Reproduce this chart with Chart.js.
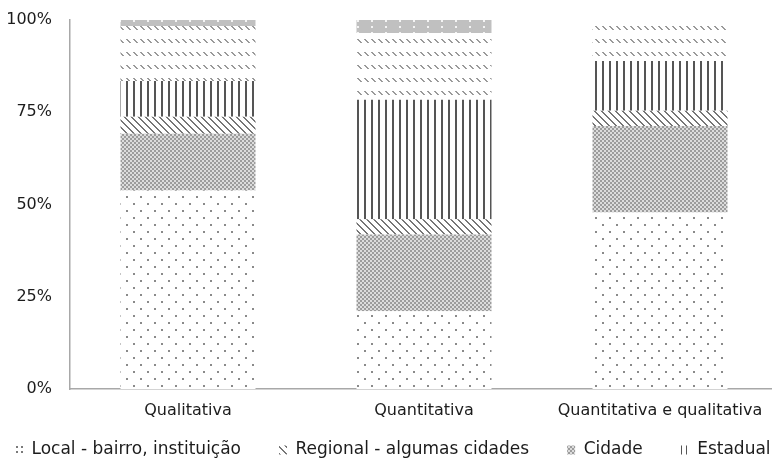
<!DOCTYPE html>
<html><head><meta charset="utf-8">
<script src="https://cdn.jsdelivr.net/npm/chart.js@4.4.1/dist/chart.umd.min.js"></script>
<style>
html,body{margin:0;padding:0;background:#fff;overflow:hidden;width:772px;height:465px}
#wrap{width:820px;height:465px;position:relative}
</style></head>
<body><div id="wrap"><canvas id="c" width="820" height="465"></canvas></div>
<script>
// ---- data ----
const categories = ['Qualitativa', 'Quantitativa', 'Quantitativa e qualitativa'];
const seriesNames = ['Local - bairro, instituição', 'Cidade', 'Regional - algumas cidades', 'Estadual', 'Nacional', 'Internacional'];
const localValues = [53.8, 21.1, 47.8];
const cidadeValues = [15.4, 20.8, 23.5];
const regionalValues = [4.6, 4.1, 4.1];
const estadualValues = [9.7, 32.4, 13.5];
const nacionalValues = [14.9, 18.1, 10.3];
const internacionalValues = [1.6, 3.5, 0];
const yTicks = [0, 25, 50, 75, 100];
const legendOrder = ['Local - bairro, instituição', 'Regional - algumas cidades', 'Cidade', 'Estadual'];

// ---- patterns ----
function makePattern(w, h, bg, draw) {
  const c = document.createElement('canvas');
  c.width = w; c.height = h;
  const g = c.getContext('2d');
  g.fillStyle = bg; g.fillRect(0, 0, w, h);
  draw(g, w, h);
  return g.createPattern(c, 'repeat');
}
const patDots = makePattern(14, 14, '#ffffff', (g) => {
  g.fillStyle = '#8a8a8a';
  g.fillRect(0, 0, 2, 2); g.fillRect(7, 7, 2, 2);
});
const patDotsSmall = makePattern(5, 5, '#ffffff', (g) => {
  g.fillStyle = '#7a7a7a';
  g.fillRect(1, 1, 2, 2);
});
const patChecker = makePattern(4, 4, '#dcdcdc', (g) => {
  g.fillStyle = '#9c9c9c';
  g.fillRect(0, 0, 2, 2); g.fillRect(2, 2, 2, 2);
});
const patDenseDiag = makePattern(7, 7, '#ffffff', (g, w) => {
  g.fillStyle = '#767676';
  for (let i = 0; i < w; i++) { g.fillRect(i, i, 1, 1); g.fillRect((i + 1) % w, i, 1, 1); }
});
const patVertical = makePattern(7, 7, '#ffffff', (g) => {
  g.fillStyle = '#555555';
  g.fillRect(0, 0, 2, 7);
});
const patVerticalSmall = makePattern(5, 5, '#ffffff', (g) => {
  g.fillStyle = '#555555';
  g.fillRect(1, 0, 1, 5);
});
const patSparseDiag = makePattern(7, 13, '#ffffff', (g) => {
  g.fillStyle = '#9a9a9a';
  for (let i = 0; i < 4; i++) { g.fillRect(i, i, 2, 1); }
});
const patGray = makePattern(14, 6, '#c0c0c0', (g) => {
  g.fillStyle = '#f4f4f4';
  g.fillRect(7, 2, 2, 2);
});

const seriesValues = [localValues, cidadeValues, regionalValues, estadualValues, nacionalValues, internacionalValues];
const seriesFills = [patDots, patChecker, patDenseDiag, patVertical, patSparseDiag, patGray];
const legendFills = { 'Local - bairro, instituição': patDotsSmall, 'Estadual': patVerticalSmall };

const datasets = seriesNames.map((name, i) => ({
  label: name,
  data: seriesValues[i],
  backgroundColor: seriesFills[i],
  borderWidth: 0,
  barPercentage: 0.572,
  categoryPercentage: 1.0
}));

const textColor = '#1c1c1c';
const axisColor = '#a8a8a8';
const tickFont = { family: 'DejaVu Sans', size: 16 };
const legendFont = { family: 'DejaVu Sans', size: 17 };

new Chart(document.getElementById('c'), {
  type: 'bar',
  data: { labels: categories, datasets },
  options: {
    responsive: false,
    animation: false,
    devicePixelRatio: 1,
    layout: { padding: { top: 20, right: 0, bottom: -3.5, left: -23 } },
    plugins: {
      tooltip: { enabled: false },
      legend: {
        position: 'bottom',
        align: 'start',
        title: { display: true, text: '', font: { size: 10 }, padding: { top: -29.5, bottom: 0 } },
        labels: {
          font: legendFont,
          color: textColor,
          boxWidth: 8,
          boxHeight: 9,
          padding: 38,
          generateLabels: (chart) => {
            const items = Chart.defaults.plugins.legend.labels.generateLabels(chart);
            items.forEach(it => { if (legendFills[it.text]) it.fillStyle = legendFills[it.text]; });
            return items;
          },
          filter: (item) => legendOrder.includes(item.text),
          sort: (a, b) => legendOrder.indexOf(a.text) - legendOrder.indexOf(b.text)
        }
      }
    },
    scales: {
      x: {
        stacked: true,
        grid: { display: false, drawTicks: false },
        border: { display: true, color: axisColor, width: 1.5 },
        ticks: { font: tickFont, color: textColor, padding: 12, maxRotation: 0, autoSkip: false },
        afterFit: (scale) => { scale.height = 32; scale.paddingLeft = 0; scale.paddingRight = 42; }
      },
      y: {
        stacked: true,
        min: 0, max: 100,
        grid: { display: false, drawTicks: false },
        border: { display: true, color: axisColor, width: 1.5 },
        ticks: { font: tickFont, color: textColor, padding: 18, callback: (v) => v + '%' },
        afterBuildTicks: (scale) => { scale.ticks = yTicks.map(v => ({ value: v })); },
        afterFit: (scale) => { scale.width = 93; scale.paddingTop = 0; scale.paddingBottom = 0; }
      }
    }
  }
});
</script>
</body></html>
